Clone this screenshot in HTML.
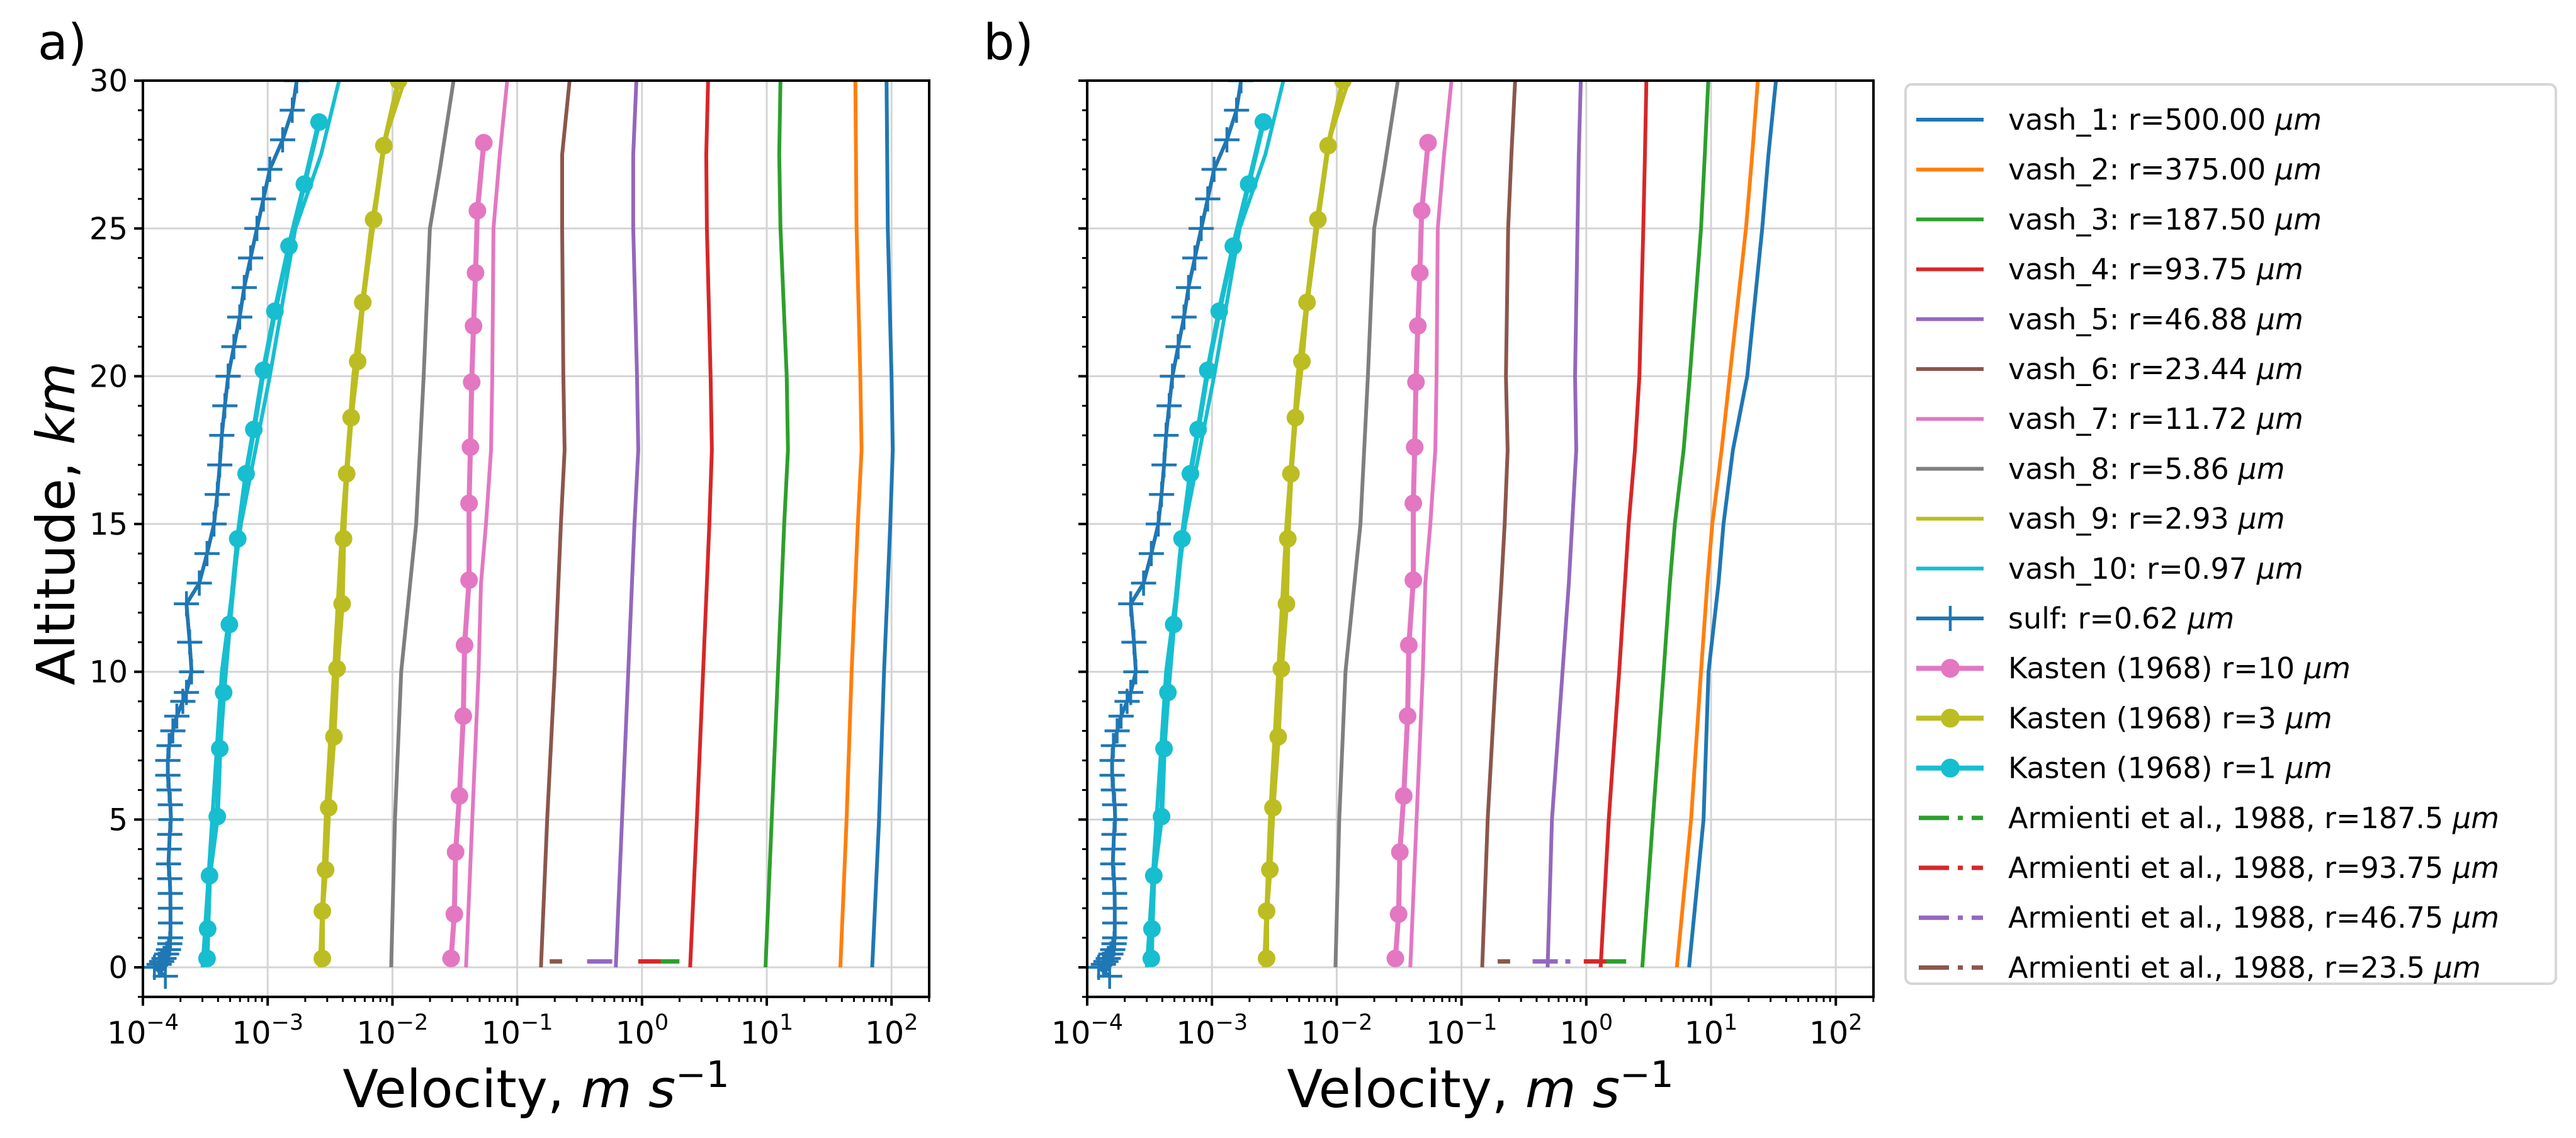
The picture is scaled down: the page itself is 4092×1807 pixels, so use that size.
<!DOCTYPE html>
<html><head><meta charset="utf-8"><style>
html,body{margin:0;padding:0;background:#fff;}
svg{display:block;font-family:"DejaVu Sans","Liberation Sans",sans-serif;}
</style></head><body>
<svg id="chart" width="4092" height="1807" viewBox="0 0 4092 1807" xmlns="http://www.w3.org/2000/svg">
<rect width="4092" height="1807" fill="#fff"/>
<g id="panels"></g>
<g id="legend"></g>
</svg>
<script>
// ---- data (altitude km, log10 velocity m/s) ----
const altStd = [0,5,10,13,15,17.5,20,25,27.5,30];
const vash1A = [1.845,1.90,1.94,1.97,1.99,2.01,2.0,1.97,1.965,1.96];
const vash2A = [1.59,1.64,1.68,1.71,1.73,1.76,1.75,1.72,1.715,1.71];
const vash3A = [0.99,1.04,1.09,1.12,1.14,1.17,1.16,1.11,1.10,1.11];
const vash4A = [0.386,0.44,0.49,0.52,0.54,0.56,0.55,0.52,0.515,0.53];
const vash5A = [-0.21,-0.16,-0.11,-0.08,-0.06,-0.03,-0.04,-0.07,-0.07,-0.045];
const vash6A = [-0.81,-0.76,-0.70,-0.67,-0.65,-0.62,-0.63,-0.64,-0.64,-0.58];
const vash7A = [-1.41,-1.36,-1.31,-1.29,-1.25,-1.21,-1.20,-1.19,-1.14,-1.08];
const vash1B = [0.824,0.94,0.98,1.06,1.10,1.175,1.29,1.41,1.46,1.52];
const vash2B = [0.726,0.84,0.92,0.97,1.01,1.085,1.15,1.28,1.33,1.375];
const vash3B = [0.449,0.534,0.62,0.67,0.71,0.78,0.83,0.92,0.95,0.978];
const vash4B = [0.115,0.18,0.264,0.31,0.34,0.39,0.426,0.457,0.47,0.482];
const vash5B = [-0.31,-0.275,-0.19,-0.14,-0.113,-0.08,-0.09,-0.07,-0.06,-0.044];
const vash6B = [-0.834,-0.79,-0.724,-0.68,-0.654,-0.63,-0.644,-0.626,-0.60,-0.57];
const alt8 = [0,5,10,15,20,25,27,30];
const vash8 = [-2.01,-1.98,-1.93,-1.81,-1.75,-1.70,-1.62,-1.51];
const alt9 = [0,5,10,15,20,25,28,30];
const vash9 = [-2.582,-2.536,-2.469,-2.403,-2.315,-2.172,-2.06,-1.904];
const vash10 = [-3.522,-3.445,-3.368,-3.214,-2.983,-2.778,-2.572,-2.428];
const altK1 = [0.3,1.3,3.1,5.1,7.4,9.3,11.6,14.5,16.7,18.2,20.2,22.2,24.4,26.5,28.6];
const kast1 = [-3.486,-3.481,-3.466,-3.404,-3.384,-3.353,-3.307,-3.240,-3.173,-3.111,-3.034,-2.942,-2.829,-2.706,-2.588];
const altK3 = [0.3,1.9,3.3,5.4,7.8,10.1,12.3,14.5,16.7,18.6,20.5,22.5,25.3,27.8,30];
const kast3 = [-2.562,-2.562,-2.536,-2.511,-2.469,-2.444,-2.403,-2.392,-2.367,-2.331,-2.279,-2.238,-2.151,-2.069,-1.951];
const altK10 = [0.3,1.8,3.9,5.8,8.5,10.9,13.1,15.7,17.6,19.8,21.7,23.5,25.6,27.9];
const kast10 = [-1.530,-1.504,-1.494,-1.463,-1.432,-1.422,-1.386,-1.386,-1.375,-1.365,-1.350,-1.334,-1.319,-1.268];
const altSulf = [-0.3,0,0.1,0.2,0.3,0.45,0.6,0.8,1,1.5,2,2.5,3,3.5,4,4.5,5,5.5,6,6.5,7,7.5,8,8.5,9,9.3,10,11,12.3,13,14,15,16,17,18,19,20,21,22,23,24,25,26,27,28,29,30];
const sulf = [-3.82,-3.908,-3.87,-3.85,-3.831,-3.81,-3.795,-3.785,-3.779,-3.779,-3.779,-3.78,-3.785,-3.795,-3.79,-3.785,-3.775,-3.78,-3.79,-3.80,-3.80,-3.79,-3.76,-3.728,-3.68,-3.651,-3.610,-3.625,-3.651,-3.548,-3.486,-3.430,-3.404,-3.384,-3.368,-3.343,-3.317,-3.271,-3.224,-3.188,-3.137,-3.086,-3.034,-2.983,-2.880,-2.803,-2.767];
const armAlt = 0.2;
const armNames = ['armienti-187','armienti-93','armienti-46','armienti-23'];
const armColors = ['#2ca02c','#d62728','#9467bd','#8c564b'];
const armLoA = [0.15,-0.03,-0.44,-0.74];
const armHiA = [0.30,0.15,-0.21,-0.64];
const armLoB = [0.16,-0.02,-0.43,-0.71];
const armHiB = [0.32,0.16,-0.11,-0.61];
const yTicks = [0,5,10,15,20,25,30];
const xTickExp = [-4,-3,-2,-1,0,1,2];

const C = {b:'#1f77b4',o:'#ff7f0e',g:'#2ca02c',r:'#d62728',p:'#9467bd',br:'#8c564b',pk:'#e377c2',gr:'#7f7f7f',ol:'#bcbd22',cy:'#17becf'};
const NS='http://www.w3.org/2000/svg';
function mk(tag, attrs, parent){const e=document.createElementNS(NS,tag);for(const k in attrs)e.setAttribute(k,attrs[k]);if(parent)parent.appendChild(e);return e;}

const TOP=128, Y0=1536, PXKM=46.93, DEC=198.2, W=1249;
function yS(a){return Y0 - a*PXKM;}
const root=document.getElementById('panels');

function panel(left, id, label, showYLabels, set){
  const xS = l => left + (l+4)*DEC;
  const g = mk('g',{},root);
  
  
  const bottom = yS(-1), right = left+W;
  const clipId='clip-'+id;
  const cp=mk('clipPath',{id:clipId},g); mk('rect',{x:left,y:TOP,width:W,height:bottom-TOP},cp);
  const grid=mk('g',{},g);
  
  
  yTicks.forEach(t=>mk('line',{x1:left,x2:right,y1:yS(t),y2:yS(t),stroke:'#d4d4d4','stroke-width':3},grid));
  xTickExp.forEach(e=>{if(e>-4)mk('line',{x1:xS(e),x2:xS(e),y1:TOP,y2:bottom,stroke:'#d4d4d4','stroke-width':3},grid);});
  const plot=mk('g',{'clip-path':'url(#'+clipId+')'},g);
  function line(name, alts, vals, color, w, marker){
    const pts=alts.map((a,i)=>xS(vals[i]).toFixed(1)+','+yS(a).toFixed(1)).join(' ');
    const sg=mk('g',{},plot);
    
    
    mk('polyline',{points:pts,fill:'none',stroke:color,'stroke-width':w,'stroke-linejoin':'round'},sg);
    if(marker==='o') alts.forEach((a,i)=>mk('circle',{cx:xS(vals[i]),cy:yS(a),r:14,fill:color},sg));
    if(marker==='+') alts.forEach((a,i)=>{const x=xS(vals[i]),y=yS(a);mk('path',{d:`M${x-20},${y}H${x+20}M${x},${y-20}V${y+20}`,stroke:color,'stroke-width':4.5},sg);});
  }
  line('vash-1-line', altStd, set.v1, C.b, 6);
  line('vash-2-line', altStd, set.v2, C.o, 6);
  line('vash-3-line', altStd, set.v3, C.g, 6);
  line('vash-4-line', altStd, set.v4, C.r, 6);
  line('vash-5-line', altStd, set.v5, C.p, 6);
  line('vash-6-line', altStd, set.v6, C.br, 6);
  line('vash-7-line', altStd, vash7A, C.pk, 6);
  line('vash-8-line', alt8, vash8, C.gr, 6);
  line('vash-9-line', alt9, vash9, C.ol, 6);
  line('vash-10-line', altStd.filter((_,i)=>i!==3&&i!==5), vash10, C.cy, 6);
  line('sulf-line', altSulf, sulf, C.b, 6, '+');
  line('kasten-10-line', altK10, kast10, C.pk, 8, 'o');
  line('kasten-3-line', altK3, kast3, C.ol, 8, 'o');
  line('kasten-1-line', altK1, kast1, C.cy, 8, 'o');
  armNames.forEach((n,i)=>{
    const l=mk('line',{x1:xS(set.lo[i]),x2:xS(set.hi[i]),y1:yS(armAlt),y2:yS(armAlt),stroke:armColors[i],'stroke-width':7,'stroke-dasharray':'40,12,8,12'},plot);
    
    
  });
  mk('rect',{x:left,y:TOP,width:W,height:bottom-TOP,fill:'none',stroke:'#000','stroke-width':4},g);
  for(let a=-1;a<=30;a++){const maj=a%5===0;mk('line',{x1:left-(maj?14:8),x2:left,y1:yS(a),y2:yS(a),stroke:'#000','stroke-width':maj?4:3},g);}
  if(showYLabels) yTicks.forEach(t=>{const tx=mk('text',{x:left-24,y:yS(t)+17,'text-anchor':'end','font-size':48,fill:'#000'},g);tx.textContent=t;});
  xTickExp.forEach(e=>{
    const x=xS(e);mk('line',{x1:x,x2:x,y1:bottom,y2:bottom+14,stroke:'#000','stroke-width':4},g);
    const tx=mk('text',{x:x,y:bottom+74,'text-anchor':'middle','font-size':49,fill:'#000'},g);
    tx.innerHTML='10<tspan dy="-22" font-size="35">'+(e<0?'\u2212'+Math.abs(e):e)+'</tspan>';
    for(let m=2;m<=9;m++){const xm=xS(e+Math.log10(m));if(xm<=right+1)mk('line',{x1:xm,x2:xm,y1:bottom,y2:bottom+8,stroke:'#000','stroke-width':3},g);}
  });
  const xl=mk('text',{x:left+W/2,y:1758,'text-anchor':'middle','font-size':83,fill:'#000'},g);
  
  
  xl.innerHTML='Velocity, <tspan font-style="italic">m s</tspan><tspan dy="-32" font-size="58">\u22121</tspan>';
  const pl=mk('text',{x:label==='a)'?60:1562,y:94,'font-size':78,fill:'#000'},g);
  
  
  pl.textContent=label;
}
panel(227,'panel-a','a)',true,{v1:vash1A,v2:vash2A,v3:vash3A,v4:vash4A,v5:vash5A,v6:vash6A,lo:armLoA,hi:armHiA});
panel(1727,'panel-b','b)',false,{v1:vash1B,v2:vash2B,v3:vash3B,v4:vash4B,v5:vash5B,v6:vash6B,lo:armLoB,hi:armHiB});
const yl=mk('text',{x:0,y:0,'text-anchor':'middle','font-size':84,fill:'#000',transform:'translate(118,832) rotate(-90)'},root);


yl.innerHTML='Altitude, <tspan font-style="italic">km</tspan>';

const legLabels=['vash_1: r=500.00 ','vash_2: r=375.00 ','vash_3: r=187.50 ','vash_4: r=93.75 ','vash_5: r=46.88 ','vash_6: r=23.44 ','vash_7: r=11.72 ','vash_8: r=5.86 ','vash_9: r=2.93 ','vash_10: r=0.97 ','sulf: r=0.62 ','Kasten (1968) r=10 ','Kasten (1968) r=3 ','Kasten (1968) r=1 ','Armienti et al., 1988, r=187.5 ','Armienti et al., 1988, r=93.75 ','Armienti et al., 1988, r=46.75 ','Armienti et al., 1988, r=23.5 '];
const legColors=[C.b,C.o,C.g,C.r,C.p,C.br,C.pk,C.gr,C.ol,C.cy,C.b,C.pk,C.ol,C.cy,C.g,C.r,C.p,C.br];
const legStyle=['l','l','l','l','l','l','l','l','l','l','+','o','o','o','d','d','d','d'];
const lg=document.getElementById('legend');
mk('rect',{x:3027,y:134,width:1033,height:1428,rx:10,fill:'#fff',stroke:'#d6d6d6','stroke-width':4},lg);
legLabels.forEach((t,i)=>{
  const y=190+i*79.2, c=legColors[i], s=legStyle[i];
  const e=mk('g',{},lg);
  
  
  if(s==='d'){mk('line',{x1:3048,x2:3150,y1:y,y2:y,stroke:c,'stroke-width':7,'stroke-dasharray':'48,14,8,14'},e);}
  else mk('line',{x1:3044,x2:3151,y1:y,y2:y,stroke:c,'stroke-width':s==='o'?8:6},e);
  if(s==='o') mk('circle',{cx:3098,cy:y,r:15,fill:c},e);
  if(s==='+') mk('line',{x1:3098,x2:3098,y1:y-20,y2:y+20,stroke:c,'stroke-width':4.5},e);
  const tx=mk('text',{x:3190,y:y+16,'font-size':46,fill:'#000'},e);
  tx.innerHTML=t+'<tspan font-style="italic">\u03bcm</tspan>';
});
</script>
</body></html>
